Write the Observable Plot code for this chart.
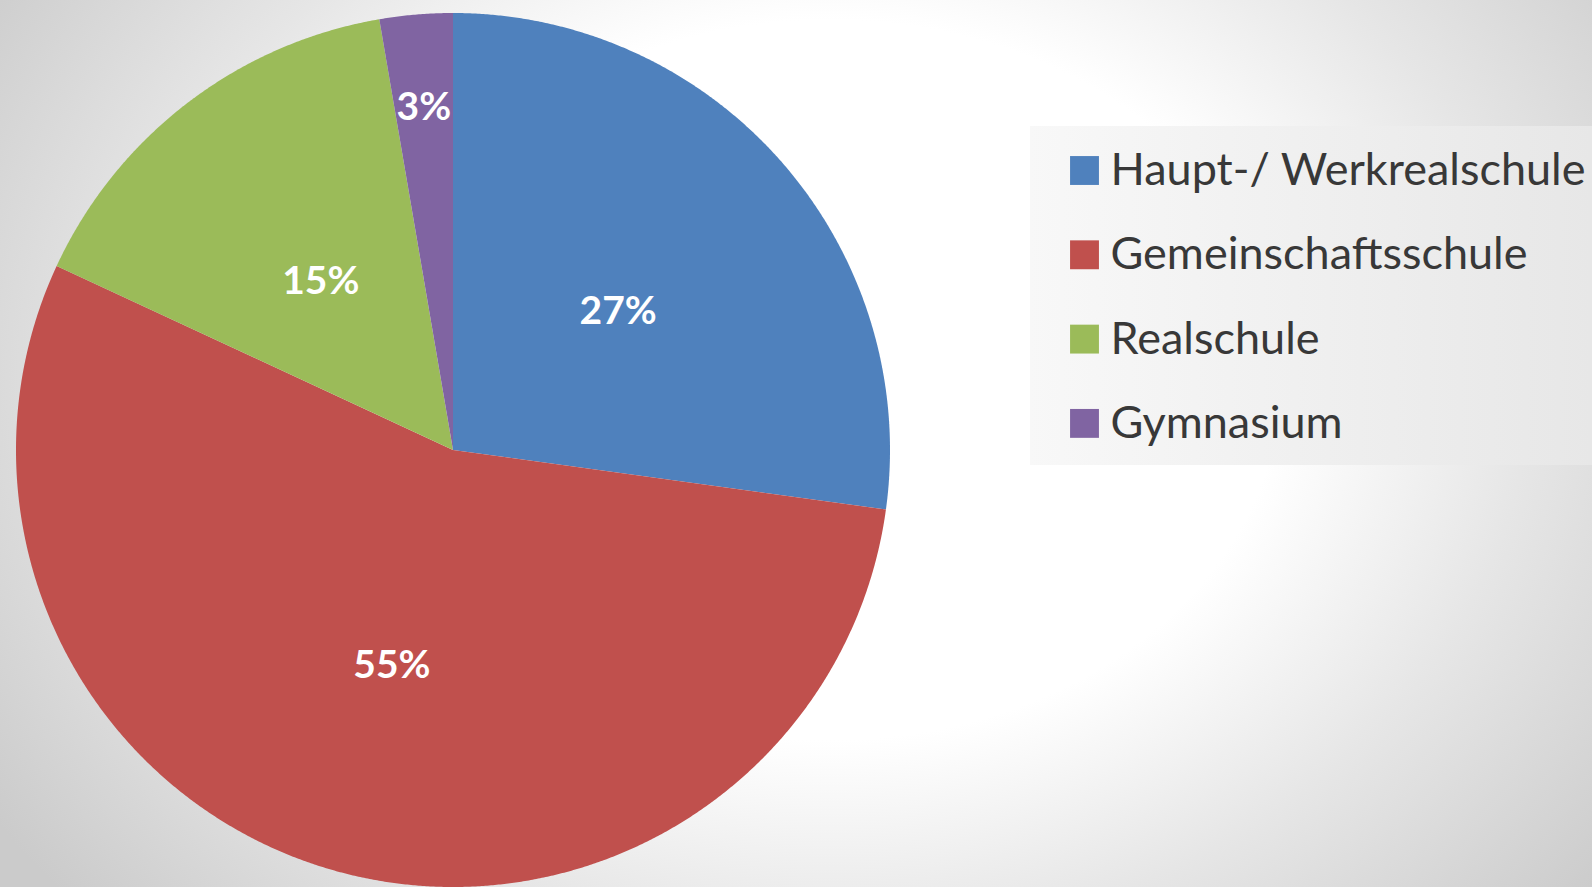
<!DOCTYPE html>
<html><head><meta charset="utf-8">
<script src="https://cdn.jsdelivr.net/npm/d3@7"></script>
<script src="https://cdn.jsdelivr.net/npm/@observablehq/plot@0.6"></script>
<style>
html,body{margin:0;padding:0;}
body{width:1592px;height:887px;overflow:hidden;
  background: radial-gradient(ellipse 1000px 800px at 830px 380px, #ffffff 0%, #ffffff 45%, #e6e6e6 70%, #cbcbcb 100%);}
#chart{position:relative;width:1592px;height:887px;}
#plate{position:absolute;left:1030px;top:126px;width:562px;height:339px;background:linear-gradient(to right,#f8f8f8,#e7e7e7);}
#chart svg{position:absolute;left:0;top:0;}
</style>
</head><body>
<div id="chart"><div id="plate"></div></div>
<script>
const categories = ["Haupt-/ Werkrealschule", "Gemeinschaftsschule", "Realschule", "Gymnasium"];
const shares = [27.2, 54.8, 15.4, 2.7];
const colors = ["#4F81BD", "#C0504D", "#9BBB59", "#8064A2"];

const rows = categories.map((name, i) => ({name, share: shares[i]}));
const arcs = d3.pie().sort(null).value(d => d.share)(rows).map(a => ({
  name: a.data.name, share: a.data.share, start: a.startAngle, end: a.endAngle,
  mid: (a.startAngle + a.endAngle) / 2
}));

// wedge outlines, derived from the pie angles
const pts = [];
for (const a of arcs) {
  const n = Math.max(2, Math.ceil((a.end - a.start) / (Math.PI / 720)));
  for (let k = 0; k <= n; k++) {
    const t = a.start + (a.end - a.start) * k / n;
    pts.push({name: a.name, cx: 0, cy: 0, x: Math.sin(t), y: Math.cos(t)});
  }
}

const cx = 453, cy = 450, R = 437;
const legendX = 1084, legendTop = 170, legendStep = 84.3;
const font = "Lato, 'Open Sans', sans-serif";

const marks = [
  Plot.area(pts, {x1: "cx", y1: "cy", x2: "x", y2: "y", z: "name", fill: "name"}),
  Plot.text(arcs, {
    x: d => Math.sin(d.mid) * (d.share < 5 ? 0.8 : 0.5),
    y: d => Math.cos(d.mid) * (d.share < 5 ? 0.8 : 0.5),
    text: d => Math.round(d.share) + "%", dy: 5,
    fill: "white", fontSize: 39, fontWeight: "bold", fontFamily: font
  })
];
categories.forEach((c, i) => {
  marks.push(Plot.dot([c], {frameAnchor: "top-left", dx: legendX, dy: legendTop + i * legendStep,
    fill: d => d, symbol: "square", r: 16.3}));
  marks.push(Plot.text([c], {frameAnchor: "top-left", dx: legendX + 26, dy: legendTop + i * legendStep,
    text: d => d, textAnchor: "start", lineAnchor: "middle", fill: "#383838", fontSize: 45, fontFamily: font}));
});

const chart = Plot.plot({
  width: 1592, height: 887,
  marginTop: 0, marginRight: 0, marginBottom: 0, marginLeft: 0,
  style: {background: "transparent", fontFamily: font},
  x: {domain: [-1, 1], range: [cx - R, cx + R], axis: null},
  y: {domain: [-1, 1], range: [cy + R, cy - R], axis: null},
  color: {domain: categories, range: colors},
  marks
});
document.getElementById("chart").appendChild(chart);
</script>
</body></html>
